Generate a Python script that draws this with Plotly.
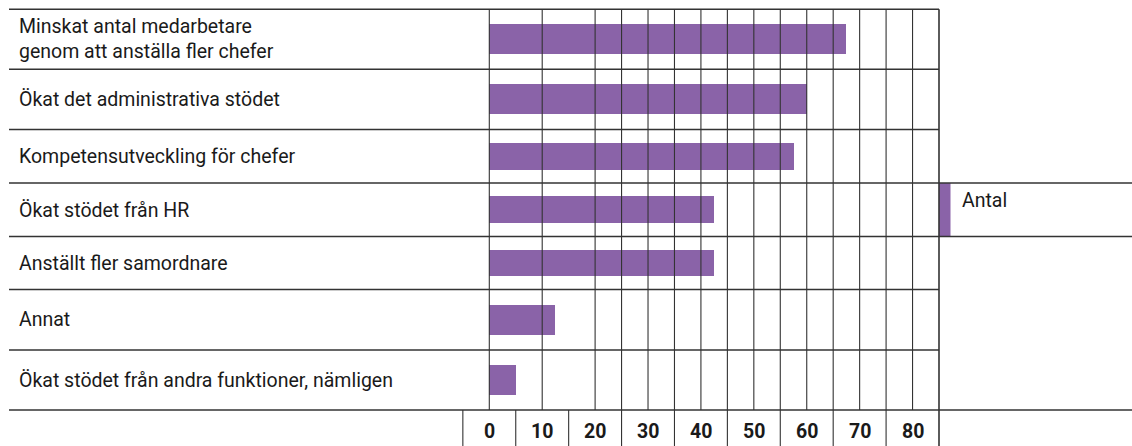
import plotly.graph_objects as go

# ---------------- data ----------------
categories = [
    "Minskat antal medarbetare<br>genom att anställa fler chefer",
    "Ökat det administrativa stödet",
    "Kompetensutveckling för chefer",
    "Ökat stödet från HR",
    "Anställt fler samordnare",
    "Annat",
    "Ökat stödet från andra funktioner, nämligen",
]
values = [67.5, 60, 57.5, 42.5, 42.5, 12.5, 5]
tick_values = [0, 10, 20, 30, 40, 50, 60, 70, 80]
tick_labels = ["0", "10", "20", "30", "40", "50", "60", "70", "80"]
series_name = "Antal"

# ---------------- layout constants ----------------
W, H = 1132, 446
X0_PX = 489.3          # pixel of value 0
PX_PER_UNIT = (939.0 - 489.3) / 85.0
ROW_EDGES = [9.3, 69.3, 129.5, 183, 236.5, 289.5, 350, 410]   # table row lines (px from top)
BAR_FRAC = 0.5
PURPLE = "#8a63a8"
LINE = "#333333"
FONT = "Roboto"
FS = 19.5

xmin = -X0_PX / PX_PER_UNIT
xmax = (W - X0_PX) / PX_PER_UNIT
GRID_RIGHT = 85

row_centers = [(ROW_EDGES[i] + ROW_EDGES[i + 1]) / 2 for i in range(len(categories))]
row_heights = [(ROW_EDGES[i + 1] - ROW_EDGES[i]) * BAR_FRAC for i in range(len(categories))]

fig = go.Figure()
fig.add_trace(go.Bar(
    x=values, y=row_centers, width=row_heights, orientation="h",
    marker=dict(color=PURPLE, line=dict(width=0)),
    name=series_name, showlegend=False, hoverinfo="x",
))

shapes = []
def hline(y, x0p, x1p, w=1.6):
    shapes.append(dict(type="line", xref="paper", yref="y", x0=x0p / W, x1=x1p / W,
                       y0=y, y1=y, line=dict(color=LINE, width=w), layer="above"))
def vline(xv, y0, y1, w=1.1):
    shapes.append(dict(type="line", xref="x", yref="y", x0=xv, x1=xv,
                       y0=y0, y1=y1, line=dict(color=LINE, width=w), layer="above"))

right_px = X0_PX + GRID_RIGHT * PX_PER_UNIT
# horizontal row lines
for i, e in enumerate(ROW_EDGES):
    if i in (3, 4, len(ROW_EDGES) - 1):
        hline(e, 9, W)
    else:
        hline(e, 9, right_px)

# vertical grid lines in table body
grid_body = [0, 10, 20] + list(range(25, 85, 5))
for g in grid_body:
    vline(g, ROW_EDGES[0], ROW_EDGES[-1])
# bottom (axis label) row boundaries
for g in range(-5, 80, 10):
    vline(g, ROW_EDGES[-1], H)
vline(GRID_RIGHT, ROW_EDGES[0], H, w=1.6)

# legend key
key_row = 3
shapes.append(dict(type="rect", xref="paper", yref="y",
                   x0=right_px / W, x1=(right_px + 11.5) / W,
                   y0=ROW_EDGES[key_row], y1=ROW_EDGES[key_row + 1],
                   fillcolor=PURPLE, line=dict(width=0), layer="below"))

annotations = []
# category labels
for c, yc in zip(categories, row_centers):
    annotations.append(dict(text=c, xref="paper", yref="y", x=17 / W, y=yc,
                            xanchor="left", yanchor="middle", align="left", showarrow=False,
                            font=dict(family=FONT, size=FS, color="#1a1a1a")))
# axis tick labels
for tv, tl in zip(tick_values, tick_labels):
    annotations.append(dict(text="<b>" + tl + "</b>", xref="x", yref="y", x=tv,
                            y=(ROW_EDGES[-1] + H) / 2 + 3, xanchor="center", yanchor="middle",
                            showarrow=False, font=dict(family=FONT, size=FS, color="#1a1a1a")))
# legend label
annotations.append(dict(text=series_name, xref="paper", yref="y", x=960 / W,
                        y=ROW_EDGES[key_row] + 17, xanchor="left", yanchor="middle",
                        showarrow=False, font=dict(family=FONT, size=FS, color="#1a1a1a")))

fig.update_layout(
    width=W, height=H,
    margin=dict(l=0, r=0, t=0, b=0, pad=0),
    paper_bgcolor="white", plot_bgcolor="white",
    xaxis=dict(range=[xmin, xmax], showgrid=False, zeroline=False, showticklabels=False,
               ticks="", showline=False, fixedrange=True),
    yaxis=dict(range=[H, 0], showgrid=False, zeroline=False, showticklabels=False,
               ticks="", showline=False, fixedrange=True),
    shapes=shapes, annotations=annotations, showlegend=False, bargap=0,
)

fig.write_html("out.html", config={"displayModeBar": False})
